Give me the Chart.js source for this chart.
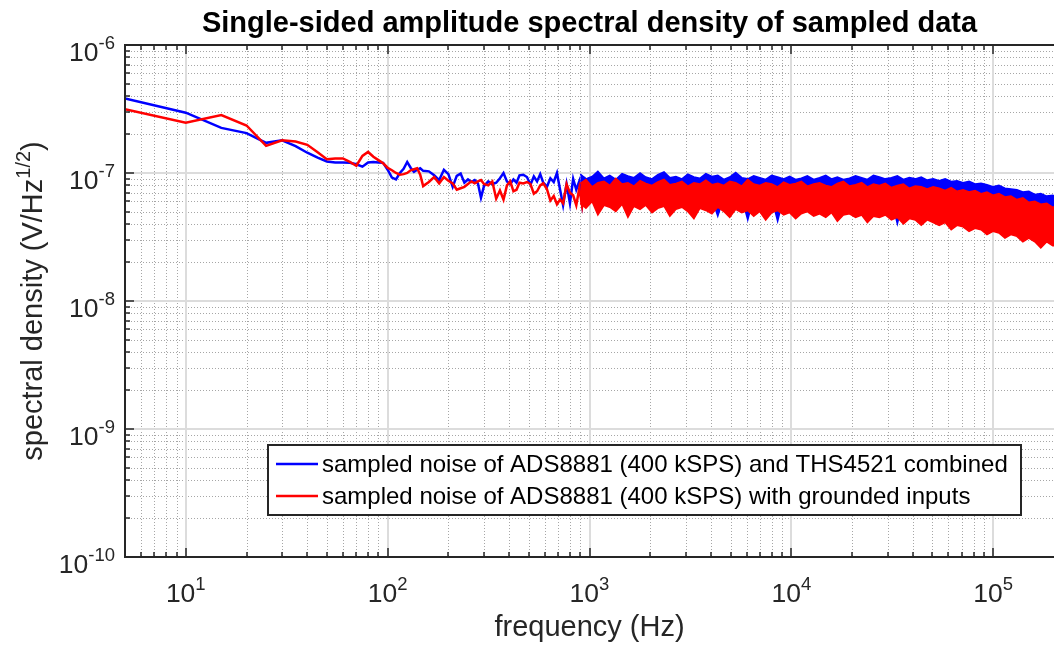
<!DOCTYPE html>
<html>
<head>
<meta charset="utf-8">
<title>Single-sided amplitude spectral density</title>
<script src="https://cdn.jsdelivr.net/npm/chart.js@4.4.1/dist/chart.umd.min.js"></script>
<style>
  html, body { margin: 0; padding: 0; background: #fff; }
  #chart { display: block; }
</style>
</head>
<body>
<canvas id="chart" width="1054" height="648"></canvas>
<script>
// values are in units of 1e-8 V/Hz^(1/2)
const UNIT = 1e-8;

const seriesNames = [
    'sampled noise of ADS8881 (400 kSPS) and THS4521 combined',
    'sampled noise of ADS8881 (400 kSPS) with grounded inputs'
];
const seriesColors = ['#0000ff', '#ff0000'];

// low frequency part, shared frequency bins (Hz)
const freqLow = [5, 10, 15, 20, 25, 30, 35, 40, 45, 50, 55, 60, 65, 70, 75, 80, 85, 90, 95, 100,
    105, 110, 115, 120, 125, 130, 135, 140, 145, 150, 160, 170, 180, 190, 200,
    210, 220, 230, 240, 250, 260, 270, 280, 290, 300, 315, 330, 345, 360, 375, 390,
    405, 420, 435, 450, 470, 490, 510, 530, 550, 570, 590, 615, 640, 665, 690, 715, 740, 770, 800,
    830, 860, 890, 920, 955, 990];

const blueLow = [38.3, 29.6, 22.5, 20.5, 17.2, 18.0, 16.2, 14.4, 13.2, 12.3, 12.1, 12.1, 12.0, 11.7, 11.2, 12.1, 12.2, 12.1, 12.0, 10.6,
    9.2, 8.9, 10.0, 10.8, 12.2, 11.0, 10.2, 10.6, 10.9, 10.4, 10.3, 9.6, 8.8, 10.6, 9.8,
    7.8, 9.5, 9.9, 8.4, 8.9, 8.5, 8.8, 8.3, 6.4, 7.9, 8.6, 8.2, 8.4, 9.1, 10.0, 8.6,
    8.2, 8.9, 8.4, 9.6, 9.7, 9.3, 8.1, 9.4, 8.6, 9.8, 8.4, 7.8, 9.1, 8.5, 10.0, 7.4, 5.6, 8.2, 5.8,
    9.0, 7.4, 8.6, 5.7, 8.8, 7.9];

const redLow = [31.5, 24.7, 28.4, 23.5, 16.3, 18.0, 17.6, 16.6, 14.5, 12.8, 13.0, 13.0, 12.2, 11.4, 13.6, 14.6, 13.4, 12.6, 11.9, 11.0,
    10.5, 10.0, 9.7, 9.8, 10.0, 10.5, 10.7, 10.9, 9.7, 7.9, 8.5, 9.3, 8.3, 9.3, 8.7,
    8.3, 7.4, 7.6, 7.8, 8.2, 8.6, 8.3, 8.6, 8.8, 8.2, 8.0, 8.6, 6.3, 7.3, 6.2, 8.0,
    8.6, 7.2, 7.4, 8.4, 8.3, 8.5, 8.2, 6.9, 7.2, 8.0, 8.3, 7.5, 6.1, 6.6, 5.7, 6.2, 5.8, 8.2, 7.0,
    6.7, 5.6, 7.6, 5.5, 7.9, 6.2];

// dense part: peaks and troughs of the noise
const freqHigh = [900, 960, 1030, 1100, 1180, 1260, 1350, 1450, 1550, 1660,
    1780, 1900, 2040, 2180, 2340, 2500, 2680, 2870, 3070, 3290,
    3520, 3770, 4040, 4320, 4630, 4950, 5300, 5680, 6080, 6510,
    6970, 7460, 7990, 8550, 9160, 9800, 10500, 11200, 12000, 12900,
    13800, 14800, 15800, 16900, 18100, 19400, 20800, 22300, 23800, 25500,
    27300, 29200, 31300, 33500, 35900, 38400, 41100, 44000, 47100, 50400,
    54000, 57800, 61900, 66200, 70900, 75900, 81300, 87000, 93100, 99700,
    106700, 114300, 122300, 131000, 140200, 150100, 160700, 172000, 184200, 197200,
    205000];

const blueUpper = [9.8, 9.0, 9.4, 10.3, 9.1, 9.6, 8.9, 9.9, 9.5, 9.2,
    10.0, 9.3, 9.0, 9.7, 10.2, 9.2, 9.4, 9.0, 9.8, 9.3,
    9.1, 9.9, 9.4, 9.6, 8.9, 9.3, 10.1, 9.2, 9.0, 9.5,
    9.2, 8.9, 9.6, 9.3, 9.0, 9.4, 8.9, 9.1, 9.5, 8.9,
    9.2, 9.6, 9.0, 9.3, 8.9, 9.1, 9.5, 9.2, 8.9, 9.6,
    9.3, 9.0, 9.2, 9.5, 8.9, 9.2, 9.0, 9.3, 8.8, 9.0,
    8.7, 9.0, 8.6, 8.7, 8.4, 8.6, 8.2, 8.3, 8.1, 7.8,
    8.0, 7.6, 7.5, 7.4, 7.1, 7.2, 6.8, 6.9, 6.6, 6.7,
    6.5];

const blueLower = [6.2, 5.6, 6.8, 6.4, 6.9, 6.5, 6.7, 6.3, 6.6, 6.2,
    6.8, 6.5, 6.1, 6.6, 6.3, 5.9, 6.7, 6.4, 6.6, 6.2,
    6.5, 6.8, 6.3, 4.6, 6.5, 6.2, 6.6, 6.4, 4.3, 6.5,
    6.3, 6.6, 6.4, 4.2, 6.5, 6.3, 6.6, 6.4, 6.2, 6.5,
    6.3, 6.6, 6.4, 6.2, 6.5, 6.3, 6.6, 6.4, 6.2, 6.5,
    6.3, 6.4, 6.2, 4.0, 6.3, 6.1, 6.3, 6.0, 6.2, 6.0,
    5.9, 6.0, 5.8, 5.9, 5.7, 5.8, 5.6, 5.7, 5.5, 5.6,
    5.4, 5.5, 5.3, 5.4, 5.2, 5.3, 5.1, 5.2, 5.0, 5.1,
    5.0];

const redUpper = [8.3, 8.9, 7.8, 8.4, 8.6, 8.0, 9.1, 8.2, 8.4, 7.9,
    8.7, 8.3, 8.0, 8.5, 8.9, 8.1, 8.3, 8.6, 7.9, 8.4,
    8.2, 8.8, 8.1, 8.3, 8.0, 8.6, 8.4, 7.9, 8.9, 8.2,
    8.0, 8.4, 8.2, 7.8, 8.5, 8.1, 8.3, 8.6, 7.9, 8.2,
    8.4, 8.0, 7.8, 8.3, 8.6, 7.9, 8.1, 8.4, 7.8, 8.2,
    8.0, 8.3, 7.7, 8.0, 8.2, 7.6, 7.9, 7.8, 7.5, 7.8,
    7.6, 7.3, 7.7, 7.2, 7.4, 7.1, 7.3, 6.9, 7.1, 6.7,
    6.9, 6.5, 6.6, 6.2, 6.4, 5.9, 6.0, 5.7, 5.8, 5.4,
    5.5];

const redLower = [5.8, 5.3, 6.0, 4.7, 5.6, 5.4, 5.0, 5.7, 4.5, 5.5,
    5.2, 5.6, 4.9, 5.3, 5.5, 4.6, 5.2, 5.4, 5.0, 4.4,
    5.3, 5.1, 4.8, 5.4, 5.0, 4.5, 5.2, 4.9, 5.1, 4.6,
    5.0, 4.3, 4.9, 5.1, 4.7, 4.9, 4.4, 4.8, 5.0, 4.6,
    4.8, 4.5, 4.9, 4.2, 4.7, 4.8, 4.5, 4.7, 4.1, 4.6,
    4.5, 4.7, 4.3, 4.5, 4.0, 4.4, 4.3, 3.9, 4.3, 4.1,
    3.9, 4.1, 3.6, 3.9, 3.8, 3.5, 3.7, 3.6, 3.3, 3.5,
    3.4, 3.1, 3.3, 3.2, 2.9, 3.1, 2.9, 2.6, 2.9, 2.7,
    2.7];

// axes
const xMin = 5, xMax = 2e5;
const yMin = 1e-10, yMax = 1e-6;
const xTicks = [10, 100, 1000, 10000, 100000];
const xTickExp = ['1', '2', '3', '4', '5'];
const yTicks = [1e-10, 1e-9, 1e-8, 1e-7, 1e-6];
const yTickExp = ['-10', '-9', '-8', '-7', '-6'];
const minorSteps = [2, 3, 4, 5, 6, 7, 8, 9];
const xDecades = [1, 10, 100, 1000, 10000, 100000];
const yDecades = [1e-10, 1e-9, 1e-8, 1e-7];

const titleText = 'Single-sided amplitude spectral density of sampled data';
const xTitle = 'frequency (Hz)';

const FONT = '"Liberation Sans", Arial, Helvetica, sans-serif';
const AXIS_COLOR = '#262626';

function toPoints(freqs, vals) {
    return freqs.map((f, i) => ({ x: f, y: vals[i] * UNIT }));
}

function minorValues(decades, lo, hi) {
    const out = [];
    decades.forEach(d => minorSteps.forEach(m => {
        const v = d * m;
        if (v > lo && v < hi) out.push(v);
    }));
    return out;
}

function drawPower(ctx, exp, x, y, align) {
    ctx.font = '26.5px ' + FONT;
    const wb = ctx.measureText('10').width;
    ctx.font = '18.5px ' + FONT;
    const we = ctx.measureText(exp).width;
    let left = x;
    if (align === 'center') left = x - (wb + we) / 2;
    if (align === 'right') left = x - wb - we;
    ctx.textAlign = 'left';
    ctx.textBaseline = 'alphabetic';
    ctx.font = '26.5px ' + FONT;
    ctx.fillText('10', left, y);
    ctx.font = '18.5px ' + FONT;
    ctx.fillText(exp, left + wb, y - 12);
}

const matlabAxes = {
    id: 'matlabAxes',
    beforeDatasetsDraw(chart) {
        const { ctx, chartArea: a, scales } = chart;
        const xs = scales.x, ys = scales.y;
        ctx.save();
        ctx.beginPath();
        ctx.rect(a.left, a.top, a.right - a.left, a.bottom - a.top);
        ctx.clip();

        // minor grid, dotted
        ctx.lineWidth = 1;
        ctx.strokeStyle = '#a6a6a6';
        ctx.setLineDash([1, 2]);
        ctx.beginPath();
        minorValues(xDecades, xMin, xMax).forEach(v => {
            const px = Math.round(xs.getPixelForValue(v)) + 0.5;
            ctx.moveTo(px, a.top); ctx.lineTo(px, a.bottom);
        });
        minorValues(yDecades, yMin, yMax).forEach(v => {
            const py = Math.round(ys.getPixelForValue(v)) + 0.5;
            ctx.moveTo(a.left, py); ctx.lineTo(a.right, py);
        });
        ctx.stroke();

        // major grid
        ctx.setLineDash([]);
        ctx.lineWidth = 2;
        ctx.strokeStyle = '#dcdcdc';
        ctx.beginPath();
        xTicks.forEach(v => {
            const px = Math.round(xs.getPixelForValue(v));
            ctx.moveTo(px, a.top); ctx.lineTo(px, a.bottom);
        });
        yTicks.forEach(v => {
            const py = Math.round(ys.getPixelForValue(v));
            ctx.moveTo(a.left, py); ctx.lineTo(a.right, py);
        });
        ctx.stroke();
        ctx.restore();
    },
    afterDatasetsDraw(chart) {
        const { ctx, chartArea: a, scales } = chart;
        const xs = scales.x, ys = scales.y;
        ctx.save();
        ctx.strokeStyle = AXIS_COLOR;
        ctx.fillStyle = AXIS_COLOR;
        ctx.lineWidth = 1.5;

        // tick marks, pointing inwards
        ctx.beginPath();
        const xm = minorValues(xDecades, xMin, xMax);
        xTicks.concat(xm).forEach((v, i) => {
            const len = i < xTicks.length ? 9 : 5;
            const px = Math.round(xs.getPixelForValue(v));
            ctx.moveTo(px, a.bottom); ctx.lineTo(px, a.bottom - len);
            ctx.moveTo(px, a.top); ctx.lineTo(px, a.top + len);
        });
        const ym = minorValues(yDecades, yMin, yMax);
        yTicks.concat(ym).forEach((v, i) => {
            const len = i < yTicks.length ? 9 : 5;
            const py = Math.round(ys.getPixelForValue(v));
            ctx.moveTo(a.left, py); ctx.lineTo(a.left + len, py);
        });
        ctx.stroke();

        // axes box (right side is off the picture)
        ctx.lineWidth = 2;
        ctx.beginPath();
        ctx.moveTo(a.right, a.top);
        ctx.lineTo(a.left, a.top);
        ctx.lineTo(a.left, a.bottom);
        ctx.lineTo(a.right, a.bottom);
        ctx.stroke();

        // tick labels
        xTicks.forEach((v, i) => drawPower(ctx, xTickExp[i], xs.getPixelForValue(v), a.bottom + 45, 'center'));
        yTicks.forEach((v, i) => drawPower(ctx, yTickExp[i], a.left - 10, ys.getPixelForValue(v) + 15.5, 'right'));

        // axis titles
        ctx.font = '29px ' + FONT;
        ctx.textAlign = 'center';
        ctx.textBaseline = 'alphabetic';
        ctx.fillText(xTitle, (a.left + a.right) / 2, 636);

        ctx.save();
        ctx.translate(42, (a.top + a.bottom) / 2);
        ctx.rotate(-Math.PI / 2);
        const parts = [
            { t: 'spectral density (V/Hz', size: 29, rise: 0 },
            { t: '1/2', size: 20, rise: 12 },
            { t: ')', size: 29, rise: 0 }
        ];
        let total = 0;
        parts.forEach(p => { ctx.font = p.size + 'px ' + FONT; p.w = ctx.measureText(p.t).width; total += p.w; });
        let cx = -total / 2;
        ctx.textAlign = 'left';
        parts.forEach(p => {
            ctx.font = p.size + 'px ' + FONT;
            ctx.fillText(p.t, cx, -p.rise);
            cx += p.w;
        });
        ctx.restore();

        // title
        ctx.fillStyle = '#000';
        ctx.font = 'bold 29px ' + FONT;
        ctx.textAlign = 'center';
        ctx.fillText(titleText, (a.left + a.right) / 2, 32);
        ctx.restore();
    },
    afterDraw(chart) {
        const ctx = chart.ctx;
        const box = { left: 268, top: 445, right: 1021, bottom: 515 };
        const rows = [464, 496];
        ctx.save();
        ctx.fillStyle = '#fff';
        ctx.fillRect(box.left, box.top, box.right - box.left, box.bottom - box.top);
        ctx.strokeStyle = AXIS_COLOR;
        ctx.lineWidth = 2;
        ctx.strokeRect(box.left, box.top, box.right - box.left, box.bottom - box.top);
        seriesNames.forEach((name, i) => {
            ctx.strokeStyle = seriesColors[i];
            ctx.lineWidth = 2.5;
            ctx.beginPath();
            ctx.moveTo(276, rows[i]); ctx.lineTo(318, rows[i]);
            ctx.stroke();
            ctx.fillStyle = '#000';
            ctx.font = '24px ' + FONT;
            ctx.textAlign = 'left';
            ctx.textBaseline = 'middle';
            ctx.fillText(name, 322, rows[i] + 1);
        });
        ctx.restore();
    }
};

const lineStyle = { borderWidth: 2.5, pointRadius: 0, tension: 0, fill: false };
const bandStyle = { borderWidth: 1.5, pointRadius: 0, tension: 0 };

new Chart(document.getElementById('chart'), {
    type: 'line',
    data: {
        datasets: [
            Object.assign({ label: seriesNames[0], data: toPoints(freqLow, blueLow), borderColor: seriesColors[0], order: 2 }, lineStyle),
            Object.assign({ label: 'blue peaks', data: toPoints(freqHigh, blueUpper), borderColor: seriesColors[0], fill: false, order: 2 }, bandStyle),
            Object.assign({ label: 'blue troughs', data: toPoints(freqHigh, blueLower), borderColor: seriesColors[0], backgroundColor: seriesColors[0], fill: '-1', order: 2 }, bandStyle),
            Object.assign({ label: seriesNames[1], data: toPoints(freqLow, redLow), borderColor: seriesColors[1], order: 1 }, lineStyle),
            Object.assign({ label: 'red peaks', data: toPoints(freqHigh, redUpper), borderColor: seriesColors[1], fill: false, order: 1 }, bandStyle),
            Object.assign({ label: 'red troughs', data: toPoints(freqHigh, redLower), borderColor: seriesColors[1], backgroundColor: seriesColors[1], fill: '-1', order: 1 }, bandStyle)
        ]
    },
    options: {
        responsive: false,
        animation: false,
        layout: { padding: { left: 125, top: 45, right: 0, bottom: 91 } },
        scales: {
            x: { type: 'logarithmic', min: xMin, max: xMax, display: false },
            y: { type: 'logarithmic', min: yMin, max: yMax, display: false }
        },
        plugins: {
            legend: { display: false },
            tooltip: { enabled: false }
        }
    },
    plugins: [matlabAxes]
});
</script>
</body>
</html>
